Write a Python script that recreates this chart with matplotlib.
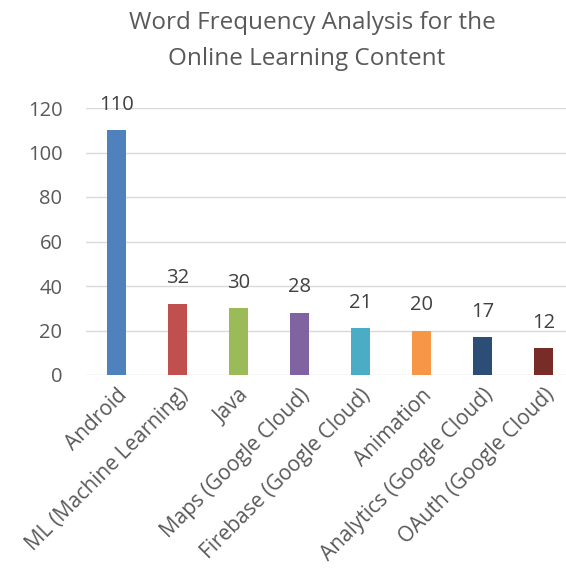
import matplotlib
matplotlib.use("Agg")
import matplotlib.pyplot as plt

categories = ["Android", "ML (Machine Learning)", "Java", "Maps (Google Cloud)",
              "Firebase (Google Cloud)", "Animation", "Analytics (Google Cloud)",
              "OAuth (Google Cloud)"]
values = [110, 32, 30, 28, 21, 20, 17, 12]
colors = ["#4F81BD", "#C0504D", "#9BBB59", "#8064A2", "#4BACC6", "#F79646",
          "#2C4D75", "#772C2A"]
yticks = [0, 20, 40, 60, 80, 100, 120]

plt.rcParams['font.family'] = ['Open Sans', 'DejaVu Sans']
W, H = 566, 572
fig = plt.figure(figsize=(W/100, H/100), dpi=100)
left, right = 86, 574
bottom, top = 375, 108
ax = fig.add_axes([left/W, 1-bottom/H, (right-left)/W, (bottom-top)/H])

x = list(range(len(categories)))
bars = ax.bar(x, values, width=0.3, color=colors, zorder=3)
for xi, v in zip(x, values):
    ax.text(xi, v + 7, str(v), ha='center', va='bottom', fontsize=14.5, color='#404040')

ax.set_xlim(-0.5, len(categories) - 0.5)
ax.set_ylim(0, 120)
ax.set_yticks(yticks)
ax.set_yticklabels([str(t) for t in yticks], fontsize=14.5, color='#595959')
ax.set_xticks(x)
ax.set_xticklabels(categories, rotation=45, ha='right', rotation_mode='anchor',
                   fontsize=15, color='#595959')
ax.tick_params(axis='both', length=0)
ax.tick_params(axis='y', pad=17)
ax.tick_params(axis='x', pad=7)
ax.grid(axis='y', color='#D9D9D9', linewidth=1, zorder=0)
for s in ax.spines.values():
    s.set_visible(False)

fig.text(312/W, 1-23/H, "Word Frequency Analysis for the", ha='center', va='center',
         fontsize=17.5, color='#595959')
fig.text(307/W, 1-59/H, "Online Learning Content", ha='center', va='center',
         fontsize=17.5, color='#595959')

fig.savefig("out.png", dpi=100, facecolor='white')
